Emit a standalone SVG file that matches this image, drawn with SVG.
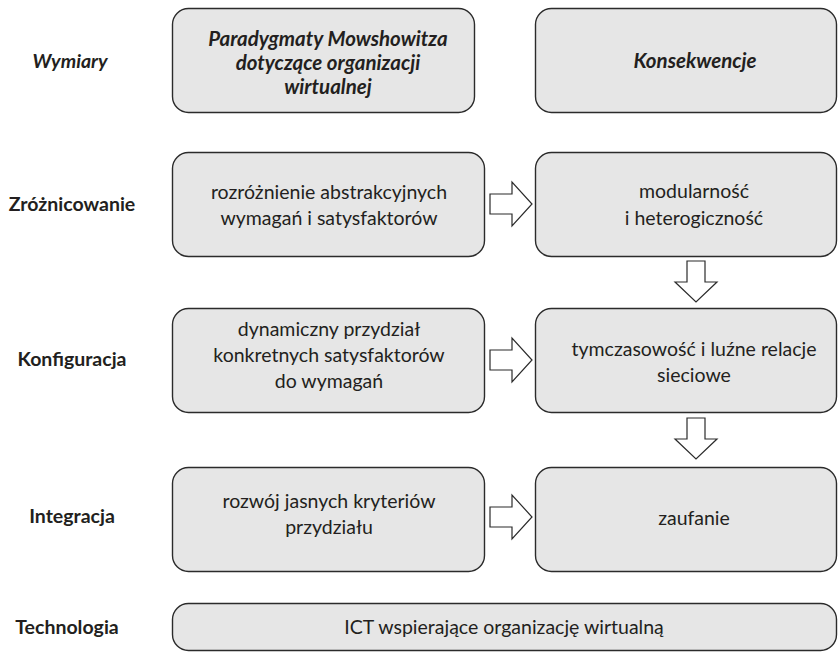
<svg xmlns="http://www.w3.org/2000/svg" width="840" height="652" viewBox="0 0 840 652">
<style>
.box{fill:#e6e6e6;stroke:#2b2b2b;stroke-width:1.4}
.t{font-family:Lato,"Open Sans","Liberation Sans",sans-serif;font-size:19.5px;fill:#231f20;text-anchor:middle}
.h{font-weight:bold;font-style:italic;font-size:20.5px}
.l{font-family:Lato,"Open Sans","Liberation Sans",sans-serif;font-size:19.5px;fill:#231f20;font-weight:bold;text-anchor:middle}
.arr{fill:#fff;stroke:#2b2b2b;stroke-width:1.2}
</style>
<rect width="840" height="652" fill="#fff"/>
<g id="labels">
<text class="l" x="70" y="68" font-style="italic" font-size="20">Wymiary</text>
<text class="l" x="72" y="211">Zróżnicowanie</text>
<text class="l" x="72" y="366">Konfiguracja</text>
<text class="l" x="72" y="523">Integracja</text>
<text class="l" x="67" y="634">Technologia</text>
</g>
<g id="n-paradygmaty">
<rect class="box" x="172.5" y="8.5" width="302" height="104" rx="16"/>
<text class="t h" x="328" y="46">Paradygmaty Mowshowitza</text>
<text class="t h" x="328" y="70">dotyczące organizacji</text>
<text class="t h" x="328" y="94">wirtualnej</text>
</g>
<g id="n-konsekwencje">
<rect class="box" x="535.5" y="8.5" width="301" height="104" rx="16"/>
<text class="t h" x="695" y="68">Konsekwencje</text>
</g>
<g id="n-rozroznienie">
<rect class="box" x="172.5" y="152.5" width="312" height="104" rx="16"/>
<text class="t" x="329" y="199">rozróżnienie abstrakcyjnych</text>
<text class="t" x="329" y="225">wymagań i satysfaktorów</text>
</g>
<g id="n-modularnosc">
<rect class="box" x="535.5" y="152.5" width="301" height="104" rx="16"/>
<text class="t" x="694" y="198">modularność</text>
<text class="t" x="694" y="225">i heterogiczność</text>
</g>
<g id="n-dynamiczny">
<rect class="box" x="172.5" y="308.5" width="312" height="104" rx="16"/>
<text class="t" x="329" y="336">dynamiczny przydział</text>
<text class="t" x="329" y="362">konkretnych satysfaktorów</text>
<text class="t" x="329" y="388">do wymagań</text>
</g>
<g id="n-tymczasowosc">
<rect class="box" x="535.5" y="308.5" width="301" height="104" rx="16"/>
<text class="t" x="694" y="356">tymczasowość i luźne relacje</text>
<text class="t" x="694" y="382">sieciowe</text>
</g>
<g id="n-rozwoj">
<rect class="box" x="172.5" y="467.5" width="312" height="104" rx="16"/>
<text class="t" x="329" y="508">rozwój jasnych kryteriów</text>
<text class="t" x="329" y="534">przydziału</text>
</g>
<g id="n-zaufanie">
<rect class="box" x="535.5" y="467.5" width="301" height="104" rx="16"/>
<text class="t" x="694" y="525">zaufanie</text>
</g>
<g id="n-ict">
<rect class="box" x="172.5" y="603.5" width="664" height="47" rx="16"/>
<text class="t" x="504" y="634">ICT wspierające organizację wirtualną</text>
</g>
<g id="connectors">
<path class="arr" d="M490 194H512V182L532 204L512 226V214H490Z"/>
<path class="arr" d="M490 350H512V338L532 360L512 382V370H490Z"/>
<path class="arr" d="M490 507H512V495L532 517L512 539V527H490Z"/>
<path class="arr" d="M687 261H705V282H717L696 302L675 282H687Z"/>
<path class="arr" d="M687 418H705V439H717L696 459L675 439H687Z"/>
</g>
</svg>
